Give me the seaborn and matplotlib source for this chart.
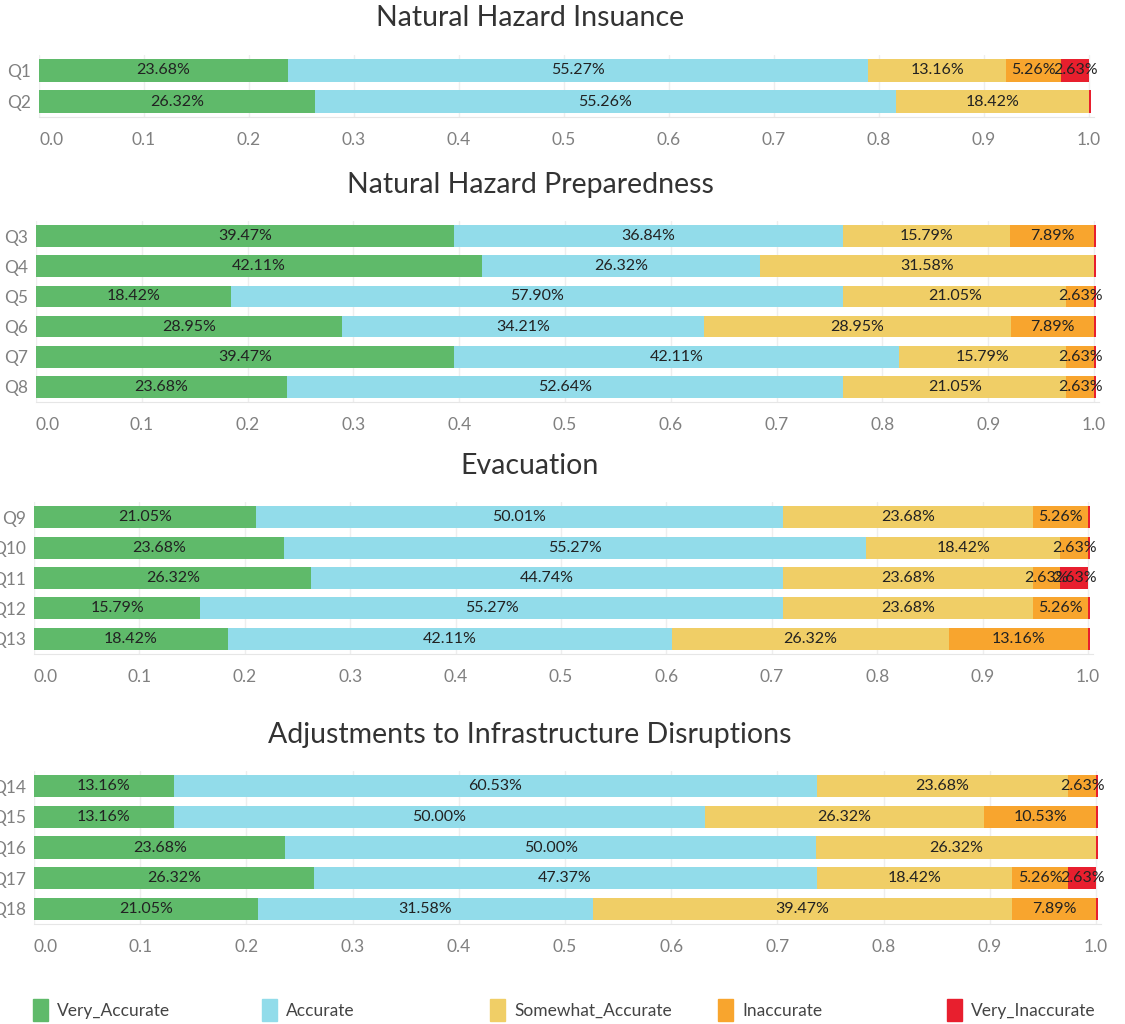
import numpy as np
import pandas as pd
import matplotlib
matplotlib.use("Agg")
import matplotlib.pyplot as plt
from matplotlib.patches import Patch
import seaborn as sns

# categorias de respuesta y colores
categories = ["Very_Accurate", "Accurate", "Somewhat_Accurate", "Inaccurate", "Very_Inaccurate"]
colors = ["#5fba6a", "#92dcea", "#f0ce66", "#f8a52e", "#e81f2e"]

titles = ["Natural Hazard Insuance", "Natural Hazard Preparedness",
          "Evacuation", "Adjustments to Infrastructure Disruptions"]
questions = [["Q1", "Q2"],
             ["Q3", "Q4", "Q5", "Q6", "Q7", "Q8"],
             ["Q9", "Q10", "Q11", "Q12", "Q13"],
             ["Q14", "Q15", "Q16", "Q17", "Q18"]]

very_accurate = [0.2368, 0.2632,
                 0.3947, 0.4211, 0.1842, 0.2895, 0.3947, 0.2368,
                 0.2105, 0.2368, 0.2632, 0.1579, 0.1842,
                 0.1316, 0.1316, 0.2368, 0.2632, 0.2105]
accurate = [0.5527, 0.5526,
            0.3684, 0.2632, 0.5790, 0.3421, 0.4211, 0.5264,
            0.5001, 0.5527, 0.4474, 0.5527, 0.4211,
            0.6053, 0.5000, 0.5000, 0.4737, 0.3158]
somewhat_accurate = [0.1316, 0.1842,
                     0.1579, 0.3158, 0.2105, 0.2895, 0.1579, 0.2105,
                     0.2368, 0.1842, 0.2368, 0.2368, 0.2632,
                     0.2368, 0.2632, 0.2632, 0.1842, 0.3947]
inaccurate = [0.0526, 0.0,
              0.0789, 0.0, 0.0263, 0.0789, 0.0263, 0.0263,
              0.0526, 0.0263, 0.0263, 0.0526, 0.1316,
              0.0263, 0.1053, 0.0, 0.0526, 0.0789]
# los valores ~0 se ven como una linea roja fina al final de la barra
very_inaccurate = [0.0263, 0.002,
                   0.002, 0.002, 0.002, 0.002, 0.002, 0.002,
                   0.002, 0.002, 0.0263, 0.002, 0.002,
                   0.002, 0.002, 0.002, 0.0263, 0.002]

rows = []
for g, qs in enumerate(questions):
    for q in qs:
        rows.append((g, q))
data = pd.DataFrame(rows, columns=["group", "question"])
data["Very_Accurate"] = very_accurate
data["Accurate"] = accurate
data["Somewhat_Accurate"] = somewhat_accurate
data["Inaccurate"] = inaccurate
data["Very_Inaccurate"] = very_inaccurate

sns.set_style("white")
plt.rcParams["font.family"] = ["Lato", "DejaVu Sans"]

W, H = 1125, 1024
fig = plt.figure(figsize=(W / 100, H / 100), dpi=100)

# posiciones de cada panel en pixeles: x0, x1 (=1.0), y_top, y_bottom, y del titulo
panels = [(39, 1089, 55, 117, 18),
          (36, 1094, 221, 402, 185),
          (34, 1088, 502, 654, 466),
          (34, 1096, 771, 924, 735)]
xmax = 1.005

for g, (x0, x1, yt, yb, ty) in enumerate(panels):
    wpx = (x1 - x0) * xmax
    ax = fig.add_axes([x0 / W, 1 - yb / H, wpx / W, (yb - yt) / H])
    sub = data[data["group"] == g].reset_index(drop=True)
    cum = sub[categories].cumsum(axis=1)
    # barras apiladas: se dibuja el acumulado de atras hacia adelante
    for k in reversed(range(len(categories))):
        sns.barplot(x=cum[categories[k]], y=sub["question"], orient="h",
                    color=colors[k], saturation=1, width=0.72,
                    linewidth=0, ax=ax)
    for j in range(len(sub)):
        for k, cat in enumerate(categories):
            v = sub.loc[j, cat]
            if v >= 0.01:
                ax.text(cum.loc[j, cat] - v / 2, j, f"{v * 100:.2f}%",
                        ha="center", va="center", fontsize=11.5, color="#222222")
    ax.set_xlim(0, xmax)
    ax.set_ylim(len(sub) - 0.5, -0.5)
    ax.set_xticks(np.arange(0, 1.01, 0.1))
    ax.set_xticklabels([f"{t:.1f}" for t in np.arange(0, 1.01, 0.1)])
    ax.get_xticklabels()[0].set_ha("left")
    ax.set_xlabel("")
    ax.set_ylabel("")
    ax.grid(axis="x", color="#eeeeee", linewidth=1)
    ax.set_axisbelow(True)
    for s in ["top", "right", "left"]:
        ax.spines[s].set_visible(False)
    ax.spines["bottom"].set_color("#e6e6e6")
    ax.tick_params(axis="x", colors="#e6e6e6", labelcolor="#808080",
                   labelsize=12.5, length=5, pad=6)
    ax.tick_params(axis="y", length=0, labelcolor="#808080", labelsize=12.5, pad=6)
    fig.text(530 / W, 1 - ty / H, titles[g], ha="center", va="center",
             fontsize=20.5, color="#333333")

# leyenda con espaciado uniforme
leg_x = [26, 255, 483, 711, 940]
for k, cat in enumerate(categories):
    fig.legend(handles=[Patch(color=colors[k], label=cat)], loc="center left",
               bbox_to_anchor=(leg_x[k] / W - 0.008, 1 - 1010 / H), frameon=False,
               fontsize=12.5, handlelength=0.9, handleheight=1.5, handletextpad=0.5,
               labelcolor="#444444")

fig.savefig("out.png", dpi=100)
